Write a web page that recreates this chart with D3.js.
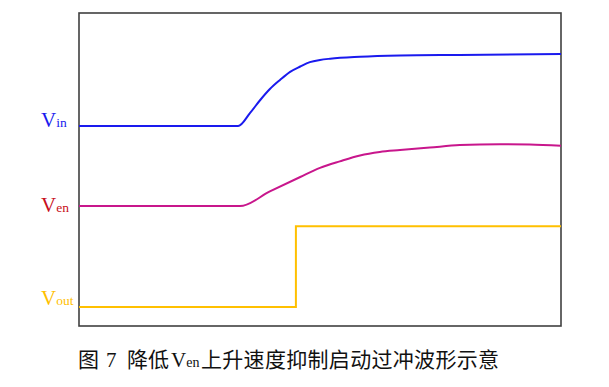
<!DOCTYPE html>
<html>
<head>
<meta charset="utf-8">
<script src="https://cdn.jsdelivr.net/npm/d3@7"></script>
<style>
  body { margin: 0; background: #fff; }
  svg { display: block; }
</style>
</head>
<body>
<svg width="609" height="387"></svg>
<script>
// time in arbitrary units (0..100), level in arbitrary units (0..100)
var vinT  = [0, 33, 35.5, 37.6, 39.6, 41.7, 43.8, 45.9, 47.9, 50.0, 52.1, 58.3, 66.6, 79.0, 100];
var vinV  = [63.9, 63.9, 68.1, 72.2, 75.7, 78.6, 81.2, 82.9, 84.3, 85.0, 85.4, 86.0, 86.4, 86.6, 86.9];

var venT  = [0, 33.4, 39.6, 45.9, 50.0, 54.1, 58.3, 62.4, 66.6, 72.8, 79.0, 87.3, 93.5, 100];
var venV  = [38.3, 38.3, 43.0, 47.6, 50.5, 52.6, 54.5, 55.6, 56.2, 57.0, 57.8, 58.1, 58.0, 57.6];

var voutT = [0, 45.0, 100];
var voutV = [6.1, 31.9, 31.9];

var labels = ['in', 'en', 'out'];

function main() {
	var svg = d3.select('svg');

	var x = d3.scaleLinear().domain([0, 100]).range([79, 561]);
	var y = d3.scaleLinear().domain([0, 100]).range([326, 13]);

	var series = [
		{ t: vinT, v: vinV, color: '#1a1aee', labelColor: '#1a1aee', curve: d3.curveMonotoneX, dy: 1 },
		{ t: venT, v: venV, color: '#c8168c', labelColor: '#c81020', curve: d3.curveMonotoneX, dy: 6 },
		{ t: voutT, v: voutV, color: '#ffc000', labelColor: '#ffc000', curve: d3.curveStepAfter, dy: -2 }
	];

	// frame
	svg.append('rect')
		.attr('x', x(0))
		.attr('y', y(100))
		.attr('width', x(100) - x(0))
		.attr('height', y(0) - y(100))
		.attr('fill', 'none')
		.attr('stroke', '#404040')
		.attr('stroke-width', 1.6);

	series.forEach(function(s, i) {
		var pts = s.t.map(function(t, j) { return [t, s.v[j]]; });
		var line = d3.line()
			.x(function(d) { return x(d[0]); })
			.y(function(d) { return y(d[1]); })
			.curve(s.curve);

		svg.append('path')
			.attr('d', line(pts))
			.attr('fill', 'none')
			.attr('stroke', s.color)
			.attr('stroke-width', 2);

		// label left of the frame, next to where the trace starts
		var lab = svg.append('text')
			.attr('x', 41)
			.attr('y', y(s.v[0]) + s.dy)
			.attr('fill', s.labelColor)
			.attr('font-family', '"Liberation Serif", "Times New Roman", serif');
		lab.append('tspan').attr('font-size', 21).text('V');
		lab.append('tspan').attr('font-size', 13.5).text(labels[i]);
	});

	// caption
	var cap = svg.append('text')
		.attr('y', 367)
		.attr('fill', '#111')
		.attr('font-size', 21);
	var cjk = '"Noto Sans CJK SC", sans-serif';
	var serif = '"Liberation Serif", "Times New Roman", serif';
	cap.append('tspan').attr('x', 78).attr('font-family', cjk).text('图');
	cap.append('tspan').attr('x', 106).attr('font-family', serif).text('7');
	cap.append('tspan').attr('x', 127).attr('font-family', cjk).text('降低');
	cap.append('tspan').attr('x', 171).attr('font-family', serif).text('V');
	cap.append('tspan').attr('font-family', serif).attr('font-size', 14).text('en');
	cap.append('tspan').attr('x', 201).attr('font-family', cjk).attr('textLength', 298).text('上升速度抑制启动过冲波形示意');
}
main();
</script>
</body>
</html>
